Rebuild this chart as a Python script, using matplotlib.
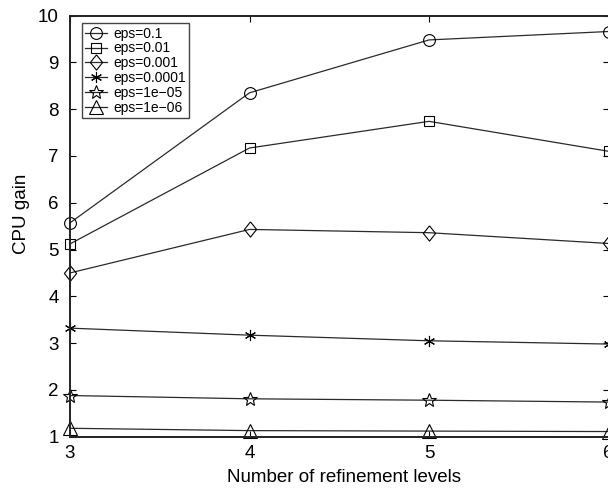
import matplotlib
matplotlib.use("Agg")
import matplotlib.pyplot as plt

plt.rcParams["font.family"] = ["Liberation Sans", "DejaVu Sans"]

levels = [3, 4, 5, 6]
eps_labels = ["eps=0.1", "eps=0.01", "eps=0.001", "eps=0.0001", "eps=1e\u221205", "eps=1e\u221206"]
gain_01 = [5.57, 8.35, 9.48, 9.66]
gain_001 = [5.12, 7.17, 7.74, 7.10]
gain_0001 = [4.50, 5.43, 5.36, 5.13]
gain_00001 = [3.32, 3.17, 3.05, 2.98]
gain_1e5 = [1.88, 1.81, 1.78, 1.74]
gain_1e6 = [1.18, 1.13, 1.12, 1.11]

series = [gain_01, gain_001, gain_0001, gain_00001, gain_1e5, gain_1e6]
diamond = [(0, 1), (0.8, 0), (0, -1), (-0.8, 0), (0, 1)]
markers = ["o", "s", diamond, (6, 2, 0), "*", "^"]
msizes = [8.5, 6.5, 11, 8, 10, 9.5]

fig = plt.figure(figsize=(6.08, 4.91), dpi=100)
ax = fig.add_axes([70 / 608, 54.3 / 491, 538.5 / 608, 421.1 / 491])

for vals, lab, m, ms in zip(series, eps_labels, markers, msizes):
    ax.plot(levels, vals, color="#2a2a2a", lw=0.9, marker=m, ms=ms,
            mfc="none", mec="black", mew=0.8, label=lab, clip_on=False)

ax.set_xlim(3, 6)
ax.set_ylim(1, 10)
ax.set_xticks(levels)
ax.set_yticks(range(1, 11))
ax.tick_params(direction="in", top=True, right=True, length=4, width=0.8,
               labelsize=13.5)
ax.tick_params(axis="y", pad=8)
ax.tick_params(axis="x", pad=6)
for s in ax.spines.values():
    s.set_linewidth(1.4)
    s.set_color("#222222")
ax.set_xlabel("Number of refinement levels", fontsize=13.5)
ax.set_ylabel("CPU gain", fontsize=13.5)
ax.xaxis.set_label_coords(0.509, -0.076)
ax.yaxis.set_label_coords(-0.075, 0.53)

ax.legend(loc="upper left", bbox_to_anchor=(0.0217, 0.982), fontsize=10,
          frameon=True, fancybox=False, edgecolor="#444444", framealpha=1,
          labelspacing=0.06, handlelength=1.6, handletextpad=0.4,
          borderpad=0.25, borderaxespad=0.0)

fig.savefig("out.png", dpi=100)
